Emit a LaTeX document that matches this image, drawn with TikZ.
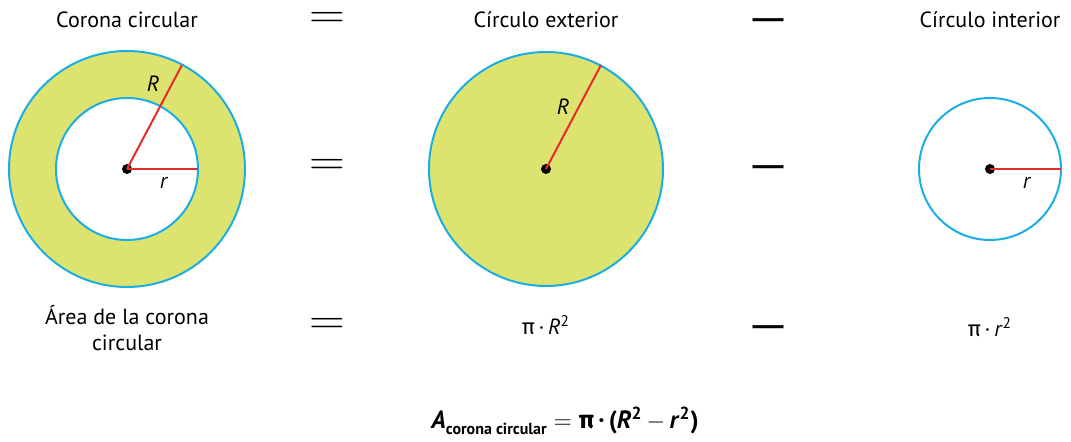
\documentclass[tikz,border=0pt]{standalone}
\usepackage{fontspec}
\setmainfont{PT Sans}
\newfontfamily\grkfont{Fira Sans}
\newfontfamily\dashfont{Liberation Sans}
\usetikzlibrary{positioning}
\definecolor{ringfill}{HTML}{DCE46F}
\definecolor{edgeblue}{HTML}{1BADE4}
\definecolor{radred}{HTML}{E62B2B}
\newcommand{\eqsign}{{\fontsize{14}{14}\selectfont\scalebox{1.65}[1.45]{$=$}}}
\newcommand{\minsign}{{\dashfont\fontsize{15.5}{15.5}\selectfont\bfseries —}}
\newcommand{\piup}{{\grkfont π}}

\begin{document}
\begin{tikzpicture}[x=0.5pt, y=-0.5pt,
    every node/.style={font=\fontsize{11}{13}\selectfont, inner sep=1pt},
    rim/.style={draw=edgeblue, line width=1pt},
    radius line/.style={draw=radred, line width=1pt},
    centre dot/.style={circle, fill=black, inner sep=0pt, minimum size=5pt}]
  \useasboundingbox (0,0) rectangle (1071,442);

  % top row
  \node (ringtitle) at (127,20) {Corona circular};
  \node (eqtop) at (327,20) {\eqsign};
  \node (outtitle) at (546,20) {Círculo exterior};
  \node (mintop) at (768,24) {\minsign};
  \node (intitle) at (990,20) {Círculo interior};

  % ring
  \fill[ringfill, even odd rule] (127,169) circle[radius=118] circle[radius=71];
  \draw[rim] (127,169) circle[radius=118];
  \draw[rim] (127,169) circle[radius=71];
  \node[centre dot] (ringc) at (127,169) {};
  \coordinate (ringR) at (182,65);
  \coordinate (ringr) at (198,169);
  \draw[radius line] (ringc.center) -- (ringR);
  \draw[radius line] (ringc.center) -- (ringr);
  \node (ringRlab) at (153,84) {\textit{R}};
  \node (ringrlab) at (164,183) {\textit{r}};

  \node (eqmid) at (327,167) {\eqsign};

  % outer circle
  \draw[rim, fill=ringfill] (546,169) circle[radius=117];
  \node[centre dot] (outc) at (546,169) {};
  \coordinate (outR) at (601,65);
  \draw[radius line] (outc.center) -- (outR);
  \node (outRlab) at (563,107) {\textit{R}};

  \node (minmid) at (768,171) {\minsign};

  % inner circle
  \draw[rim] (990,169) circle[radius=71];
  \node[centre dot] (inc) at (990,169) {};
  \coordinate (inr) at (1061,169);
  \draw[radius line] (inc.center) -- (inr);
  \node (inrlab) at (1027,183) {\textit{r}};

  % bottom row
  \node[align=center] (ringarea) at (127,328) {Área de la corona\\circular};
  \node (eqbot) at (327,326) {\eqsign};
  \node (outarea) at (546,325) {\piup\,·\,\textit{R}\textsuperscript{2}};
  \node (minbot) at (768,331) {\minsign};
  \node (inarea) at (990,327) {\piup\,·\,\textit{r}\textsuperscript{2}};

  \node[font=\fontsize{12.5}{15}\selectfont\bfseries] (formula) at (565,421)
    {\textit{A}\raisebox{-3pt}{\fontsize{8}{10}\selectfont corona circular}\;$=$\;\piup\,·\,(\textit{R}\textsuperscript{2}\,$-$\,\textit{r}\textsuperscript{2})};
\end{tikzpicture}
\end{document}
